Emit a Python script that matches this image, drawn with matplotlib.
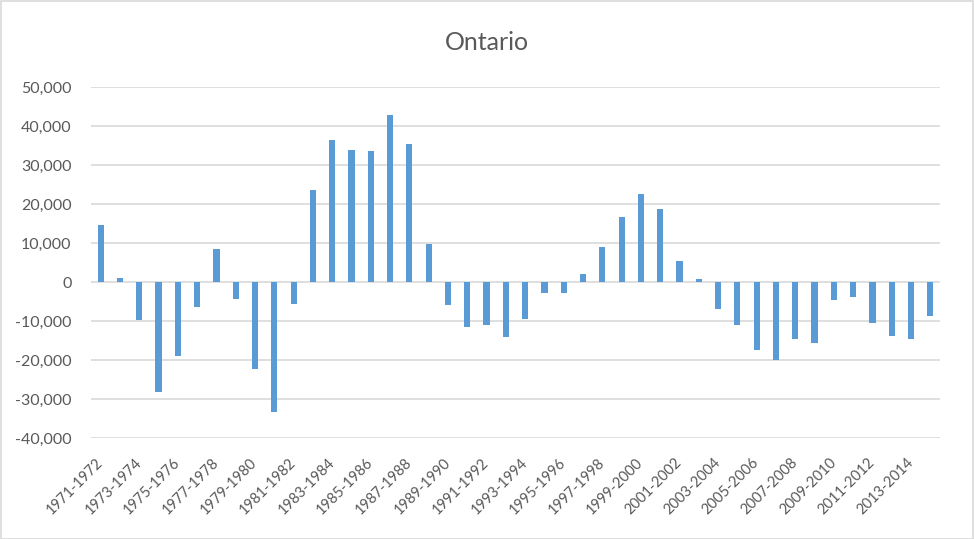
import matplotlib
matplotlib.use("Agg")
import matplotlib.pyplot as plt
from matplotlib.ticker import FuncFormatter, MultipleLocator
from matplotlib.patches import Rectangle

categories = [f"{y}-{y+1}" for y in range(1971, 2015)]
values = [14500, 900, -9800, -28300, -19100, -6500, 8400, -4400, -22400, -33400,
          -5700, 23500, 36300, 33800, 33500, 42700, 35300, 9700, -6000, -11600,
          -11100, -14200, -9600, -2900, -2900, 2000, 9100, 16600, 22500, 18600,
          5300, 700, -7000, -11100, -17500, -20100, -14700, -15700, -4700, -3900,
          -10600, -13900, -14700, -8800]
title = "Ontario"

plt.rcParams['font.family'] = ['Lato', 'DejaVu Sans']
fig = plt.figure(figsize=(9.74, 5.39), dpi=100)
W, H = 974, 539
ax = fig.add_axes([91 / W, 1 - 438 / H, (940 - 91) / W, (438 - 87) / H])

x = list(range(len(categories)))
ax.bar(x, values, width=0.32, color="#5B9BD5", zorder=3)
ax.set_xlim(-0.5, len(categories) - 0.5)
ax.set_ylim(-40000, 50000)
ax.yaxis.set_major_locator(MultipleLocator(10000))
ax.yaxis.set_major_formatter(FuncFormatter(lambda v, p: f"{int(v):,}"))
ax.grid(axis="y", color="#D9D9D9", linewidth=1.2, zorder=0)
for s in ax.spines.values():
    s.set_visible(False)
ax.tick_params(axis="y", length=0, pad=14, labelsize=11.5, labelcolor="#595959")
ax.set_xticks(x[::2])
ax.set_xticklabels(categories[::2], rotation=45, ha="right", va="center",
                   rotation_mode="anchor", fontsize=10.5, color="#595959")
ax.tick_params(axis="x", length=0, pad=16)
fig.text(0.5, 1 - 42 / H, title, ha="center", va="center", fontsize=18, color="#595959")
fig.patches.append(Rectangle((0.5 / W, 0.5 / H), 1 - 1.5 / W, 1 - 1.5 / H,
                             transform=fig.transFigure, fill=False,
                             edgecolor="#D9D9D9", linewidth=1.2))
fig.savefig("out.png", dpi=100)
